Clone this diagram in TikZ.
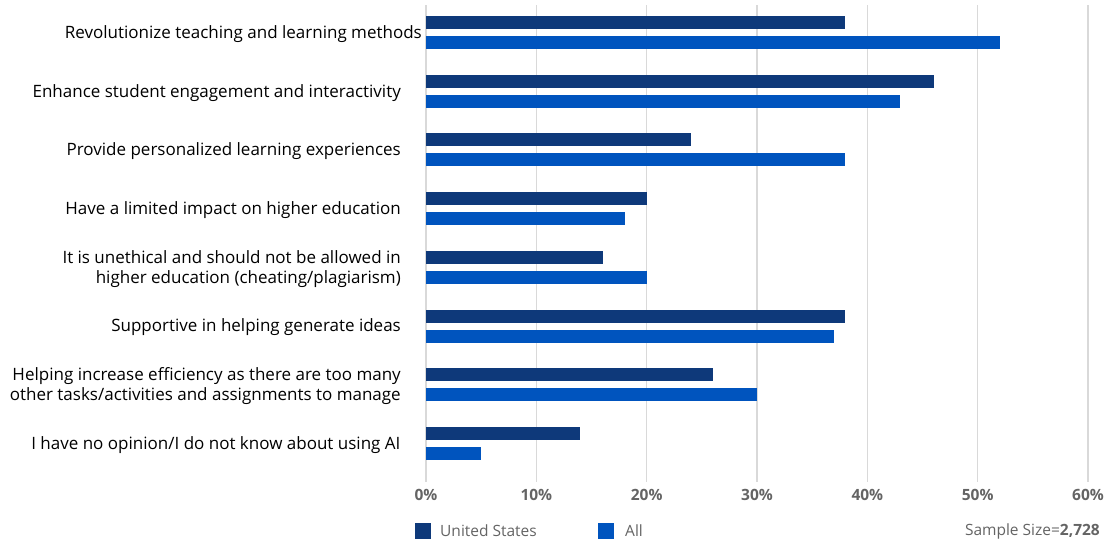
\documentclass[tikz,border=0pt]{standalone}
\usepackage{fontspec}
\setmainfont{Open Sans}
\usetikzlibrary{positioning}
\definecolor{navyUS}{RGB}{14,57,122}
\definecolor{blueAll}{RGB}{0,84,190}
\definecolor{gridgray}{RGB}{217,217,217}
\definecolor{textgray}{RGB}{100,100,100}

\begin{document}
\begin{tikzpicture}[x=1pt, y=-1pt,
                    USBAR/.style={fill=navyUS, draw=none},
                    ALLBAR/.style={fill=blueAll, draw=none},
                    LBL/.style={anchor=east, align=right, inner sep=0pt, font=\fontsize{17}{20}\selectfont, text=black},
                    TICK/.style={anchor=center, inner sep=0pt, font=\fontsize{15.5}{18}\selectfont\bfseries, text=textgray},
                    LEG/.style={anchor=west, inner sep=0pt, font=\fontsize{15.5}{18}\selectfont, text=textgray},
                ]
                \useasboundingbox (0,0) rectangle (1107,541);
                % grid lines and tick labels
                \foreach \p in {0,10,...,60} {
                    \draw[gridgray, line width=1.4pt] ({426+11.033*\p},5) -- ({426+11.033*\p},482);
                    \node[TICK] (tick\p) at ({426+11.033*\p},495) {\p\%};
                }
                % bars: index / United States / All / label end / label
                \foreach \i/\us/\all/\xe/\txt in {
                    1/38/52/422/{Revolutionize teaching and learning methods},
                    2/46/43/401/{Enhance student engagement and interactivity},
                    3/24/38/401/{Provide personalized learning experiences},
                    4/20/18/401/{Have a limited impact on higher education},
                    5/16/20/401/{It is unethical and should not be allowed in\\higher education (cheating/plagiarism)},
                    6/38/37/401/{Supportive in helping generate ideas},
                    7/26/30/401/{Helping increase efficiency as there are too many\\other tasks/activities and assignments to manage},
                    8/14/5/405/{I have no opinion/I do not know about using AI}
                } {
                    \pgfmathsetmacro{\yc}{32.5+58.7*(\i-1)}
                    \fill[USBAR]  (426,\yc-16.5) rectangle ({426+11.033*\us},\yc-3.5);
                    \fill[ALLBAR] (426,\yc+3.5)  rectangle ({426+11.033*\all},\yc+16.5);
                    \node[LBL] (cat\i) at (\xe,\yc+1.5) {\txt};
                }

                % legend
                \fill[navyUS]  (415,523) rectangle (431,539);
                \node[LEG] (legUS) at (440,531) {United States};
                \fill[blueAll] (598,523) rectangle (614,539);
                \node[LEG] (legAll) at (625,531) {All};
                \node[LEG, anchor=east] (sample) at (1100,531) {Sample Size=\textbf{2,728}};
            \end{tikzpicture}
\end{document}
